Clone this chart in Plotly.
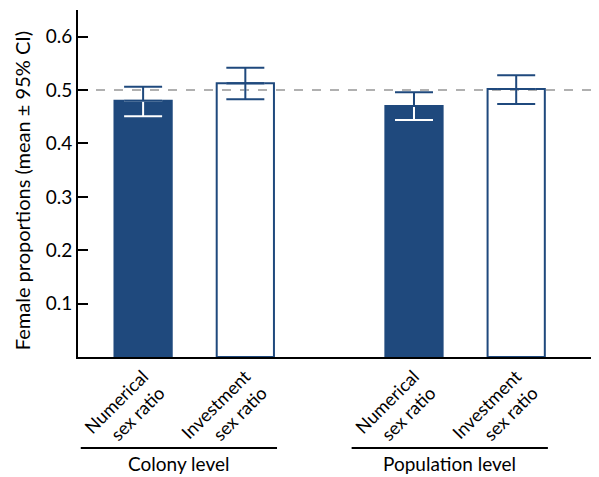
import plotly.graph_objects as go

categories = ["Numerical<br>sex ratio", "Investment<br>sex ratio",
              "Numerical<br>sex ratio", "Investment<br>sex ratio"]
positions = [0, 1, 2.65, 3.65]
means = [0.480, 0.513, 0.470, 0.502]
ci_upper = [0.506, 0.542, 0.496, 0.528]
ci_lower = [0.451, 0.483, 0.444, 0.474]
filled = [True, False, True, False]
groups = ["Colony level", "Population level"]
ytick_vals = [0.1, 0.2, 0.3, 0.4, 0.5, 0.6]
ytick_text = ["0.1", "0.2", "0.3", "0.4", "0.5", "0.6"]
y_title = "Female proportions (mean ± 95% CI)"

BLUE = "#1f497d"
FONT = "Lato"

fig = go.Figure()

fig.add_trace(go.Bar(
    x=positions, y=means, width=0.56,
    marker=dict(color=[BLUE if f else "rgba(255,255,255,0)" for f in filled],
                line=dict(color=BLUE, width=2)),
    showlegend=False, hoverinfo="skip",
))

# lower halves of error bars (white inside filled bars)
fig.add_trace(go.Scatter(
    x=positions, y=means, mode="markers",
    marker=dict(size=0.1, color="rgba(0,0,0,0)"),
    error_y=dict(type="data", symmetric=False,
                 array=[0] * len(means),
                 arrayminus=[m - l for m, l in zip(means, ci_lower)],
                 color="white", thickness=2, width=19),
    showlegend=False, hoverinfo="skip",
))
# open bars: lower half blue
fig.add_trace(go.Scatter(
    x=[p for p, f in zip(positions, filled) if not f],
    y=[m for m, f in zip(means, filled) if not f], mode="markers",
    marker=dict(size=0.1, color="rgba(0,0,0,0)"),
    error_y=dict(type="data", symmetric=False,
                 array=[0, 0],
                 arrayminus=[m - l for m, l, f in zip(means, ci_lower, filled) if not f],
                 color=BLUE, thickness=2, width=19),
    showlegend=False, hoverinfo="skip",
))
# upper halves
fig.add_trace(go.Scatter(
    x=positions, y=means, mode="markers",
    marker=dict(size=0.1, color="rgba(0,0,0,0)"),
    error_y=dict(type="data", symmetric=False,
                 array=[u - m for u, m in zip(ci_upper, means)],
                 arrayminus=[0] * len(means),
                 color=BLUE, thickness=2, width=19),
    showlegend=False, hoverinfo="skip",
))

fig.add_shape(type="line", xref="paper", yref="y", x0=0, x1=1, y0=0.5, y1=0.5,
              line=dict(color="#b0b0b0", width=2, dash="dash"), layer="below")

# group lines and labels
group_spans = [(positions[0] - 0.61, positions[1] + 0.31),
               (positions[2] - 0.61, positions[3] + 0.31)]
for (a, b), g in zip(group_spans, groups):
    fig.add_shape(type="line", xref="x", yref="paper", x0=a, x1=b, y0=-0.262, y1=-0.262,
                  line=dict(color="black", width=2))
    fig.add_annotation(x=(a + b) / 2, y=-0.343, xref="x", yref="paper", text=g,
                       showarrow=False, yanchor="bottom", borderpad=0,
                       font=dict(family=FONT, size=19, color="black"))

# y-axis title
fig.add_annotation(x=-0.106, y=0.48, xref="paper", yref="paper", text=y_title,
                   textangle=-90, showarrow=False, xanchor="center", yanchor="middle",
                   borderpad=0,
                   font=dict(family=FONT, size=20, color="black"))

fig.update_layout(
    width=591, height=469,
    margin=dict(l=70, r=0, t=2, b=120, autoexpand=False),
    plot_bgcolor="white", paper_bgcolor="white",
    font=dict(family=FONT, size=19, color="black"),
    xaxis=dict(range=[-0.637, 4.46], tickvals=positions, ticktext=categories,
               tickangle=-45, showline=True, linecolor="black", linewidth=2,
               ticks="", showgrid=False, zeroline=False, automargin=False,
               tickfont=dict(family=FONT, size=18)),
    yaxis=dict(range=[0, 0.65], tickvals=ytick_vals, ticktext=ytick_text,
               showline=True, linecolor="black", linewidth=2,
               ticks="inside", ticklen=10, tickwidth=2, tickcolor="black",
               showgrid=False, zeroline=False, automargin=False,
               tickfont=dict(family=FONT, size=19)),
)

fig.write_html("out.html")
